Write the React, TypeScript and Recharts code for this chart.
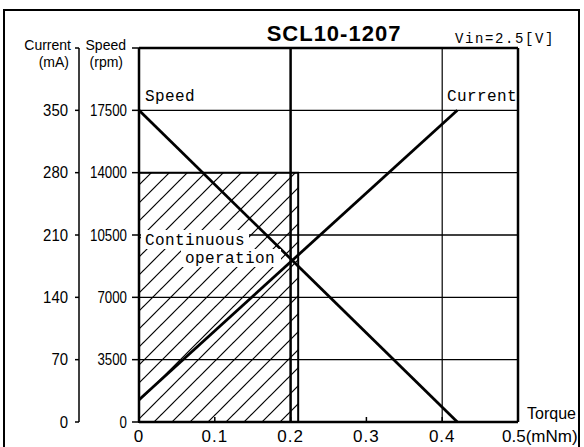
import React from 'react';
import { LineChart, Line, XAxis, YAxis, ReferenceLine, ReferenceArea } from 'recharts';

// torque (mNm) at the two ends of the characteristic lines
const torque = [0, 0.42];
const speedRpm = [17500, 0];
const currentMa = [25, 350];

const torqueTicks = [0, 0.1, 0.2, 0.3, 0.4, 0.5];
const speedTicks = [0, 3500, 7000, 10500, 14000, 17500, 21000];
const currentTicks = [0, 70, 140, 210, 280, 350, 420];
const speedGrid = [3500, 7000, 10500, 14000, 17500];
const torqueGrid = [0.4];

// continuous operation region
const contTorque = 0.21;
const contSpeed = 14000;

const data = torque.map((t, i) => ({ torque: t, speed: speedRpm[i], current: currentMa[i] }));

const SANS = '"Liberation Sans", Arial, sans-serif';
const MONO = '"Liberation Mono", "DejaVu Sans Mono", monospace';

// axis ids: speed axis sits next to the plot, current axis further left
const SPEED_AXIS = 0;
const CURRENT_AXIS = 1;

function SpeedTick(props: any) {
  const { x, y, payload } = props;
  if (payload.value === 21000) {
    return (
      <g>
        <text x={x - 1} y={y - 3} textAnchor="end" dominantBaseline="central" fontFamily={SANS} fontSize={14} fill="#000">Speed</text>
        <text x={x - 4} y={y + 14} textAnchor="end" dominantBaseline="central" fontFamily={SANS} fontSize={14} fill="#000">(rpm)</text>
      </g>
    );
  }
  const s = String(payload.value);
  return (
    <text x={x} y={y} textAnchor="end" dominantBaseline="central" fontFamily={SANS} fontSize={17}
      textLength={s.length * 7.4} lengthAdjust="spacingAndGlyphs" fill="#000">{s}</text>
  );
}

function CurrentTick(props: any) {
  const { x, y, payload } = props;
  if (payload.value === 420) {
    return (
      <g>
        <text x={x + 3} y={y - 3} textAnchor="end" dominantBaseline="central" fontFamily={SANS} fontSize={14} fill="#000">Current</text>
        <text x={x + 1} y={y + 14} textAnchor="end" dominantBaseline="central" fontFamily={SANS} fontSize={14} fill="#000">(mA)</text>
      </g>
    );
  }
  const s = String(payload.value);
  return (
    <text x={x} y={y} textAnchor="end" dominantBaseline="central" fontFamily={SANS} fontSize={17}
      textLength={s.length * 8.3} lengthAdjust="spacingAndGlyphs" fill="#000">{s}</text>
  );
}

function TorqueTick(props: any) {
  const { x, y, payload } = props;
  const v = payload.value;
  if (v === 0.5) {
    return (
      <g>
        <line x1={x} x2={x} y1={y - 5} y2={y} stroke="#000" strokeWidth={1.5} />
        <text x={x + 9} y={y - 3} fontFamily={SANS} fontSize={16} fill="#000">Torque</text>
        <text x={x - 16} y={y + 20} fontFamily={SANS} fontSize={17} fill="#000">0.5(mNm)</text>
      </g>
    );
  }
  const s = v === 0 ? '0' : v.toFixed(1);
  return (
    <g>
      <line x1={x} x2={x} y1={y - 5} y2={y} stroke="#000" strokeWidth={1.5} />
      <text x={x} y={y + 20} textAnchor="middle" fontFamily={SANS} fontSize={17} letterSpacing={1} fill="#000">{s}</text>
    </g>
  );
}

export default function App() {
  return (
    <div style={{ position: 'absolute', left: 0, top: 0, width: 584, height: 447, background: '#fff' }}>
      <LineChart width={584} height={447} data={data} margin={{ top: 48, right: 66, bottom: 0, left: 0 }}>
        <XAxis
          dataKey="torque"
          type="number"
          domain={[0, 0.5]}
          ticks={torqueTicks}
          height={25}
          tickSize={0}
          tickMargin={0}
          tickLine={false}
          axisLine={{ stroke: '#000', strokeWidth: 2.5 }}
          tick={<TorqueTick />}
        />
        <YAxis
          yAxisId={SPEED_AXIS}
          width={60}
          domain={[0, 21000]}
          ticks={speedTicks}
          tickSize={7}
          tickMargin={5}
          tickLine={{ stroke: '#000', strokeWidth: 1.5 }}
          axisLine={{ stroke: '#000', strokeWidth: 2.5 }}
          tick={<SpeedTick />}
        />
        <YAxis
          yAxisId={CURRENT_AXIS}
          width={79}
          domain={[0, 420]}
          ticks={currentTicks}
          tickSize={4}
          tickMargin={7}
          tickLine={{ stroke: '#000', strokeWidth: 1.5 }}
          axisLine={{ stroke: '#000', strokeWidth: 1.5 }}
          tick={<CurrentTick />}
        />

        <ReferenceArea yAxisId={SPEED_AXIS} x1={0} x2={contTorque} y1={0} y2={contSpeed}
          fill="url(#hatch)" fillOpacity={1} stroke="#000" strokeWidth={2} ifOverflow="visible" />

        {speedGrid.map((v) => (
          <ReferenceLine key={`sg-${v}`} yAxisId={SPEED_AXIS} y={v} stroke="#000" strokeWidth={1.3} />
        ))}
        {torqueGrid.map((v) => (
          <ReferenceLine key={`tg-${v}`} yAxisId={SPEED_AXIS} x={v} stroke="#000" strokeWidth={1.2} />
        ))}
        <ReferenceLine yAxisId={SPEED_AXIS} x={0.2} stroke="#000" strokeWidth={2.5} />
        <ReferenceLine yAxisId={SPEED_AXIS} y={21000} stroke="#000" strokeWidth={2.5} />
        <ReferenceLine yAxisId={SPEED_AXIS} x={0.5} stroke="#000" strokeWidth={2.5} />

        <Line yAxisId={SPEED_AXIS} dataKey="speed" stroke="#000" strokeWidth={2.8} dot={false} isAnimationActive={false} />
        <Line yAxisId={CURRENT_AXIS} dataKey="current" stroke="#000" strokeWidth={2.8} dot={false} isAnimationActive={false} />
      </LineChart>

      <svg width={584} height={447} style={{ position: 'absolute', left: 0, top: 0, pointerEvents: 'none' }}>
        <defs>
          <pattern id="hatch" patternUnits="userSpaceOnUse" width={18} height={18}>
            <line x1={0} y1={18} x2={18} y2={0} stroke="#000" strokeWidth={1.2} />
            <line x1={-5} y1={5} x2={5} y2={-5} stroke="#000" strokeWidth={1.2} />
            <line x1={13} y1={23} x2={23} y2={13} stroke="#000" strokeWidth={1.2} />
          </pattern>
        </defs>
        <rect x={4} y={10} width={575} height={460} fill="none" stroke="#000" strokeWidth={2} />
        <text x={334} y={41} textAnchor="middle" fontFamily={SANS} fontWeight="bold" fontSize={22} letterSpacing={1} fill="#000">SCL10-1207</text>
        <text x={455} y={43} fontFamily={MONO} fontSize={14} letterSpacing={1.6} fill="#000">Vin=2.5[V]</text>
        <text x={145} y={101} fontFamily={MONO} fontSize={16} letterSpacing={0.4} fill="#000">Speed</text>
        <text x={517} y={101} textAnchor="end" fontFamily={MONO} fontSize={16} letterSpacing={0.4} fill="#000">Current</text>
        <rect x={141} y={230} width={108} height={19} fill="#fff" />
        <rect x={181} y={249} width={100} height={18} fill="#fff" />
        <text x={145} y={245} fontFamily={MONO} fontSize={16} letterSpacing={0.4} fill="#000">Continuous</text>
        <text x={185} y={263} fontFamily={MONO} fontSize={16} letterSpacing={0.4} fill="#000">operation</text>
      </svg>
    </div>
  );
}
